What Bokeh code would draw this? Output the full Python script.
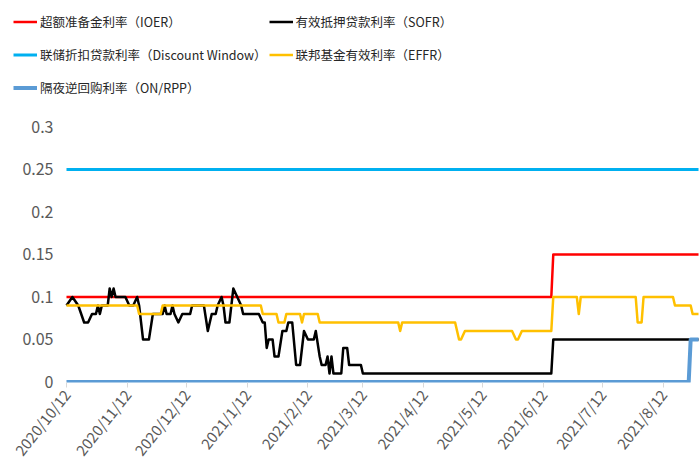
import pandas as pd
from bokeh.plotting import figure
from bokeh.models import Legend, LegendItem, FixedTicker, Range1d
from bokeh.embed import file_html
from bokeh.resources import INLINE

# ---------------- data ----------------
ioer_dates = ["2020-10-12", "2021-06-16", "2021-06-17", "2021-08-30"]
ioer_vals = [0.10, 0.10, 0.15, 0.15]

dw_dates = ["2020-10-12", "2021-08-30"]
dw_vals = [0.25, 0.25]

onrrp_dates = ["2020-10-12", "2021-08-25", "2021-08-26", "2021-08-30"]
onrrp_vals = [0.00, 0.00, 0.05, 0.05]

sofr_dates = [
    "2020-10-12", "2020-10-15", "2020-10-18", "2020-10-21", "2020-10-23", "2020-10-25",
    "2020-10-27", "2020-10-28", "2020-10-29", "2020-10-30", "2020-11-02", "2020-11-03",
    "2020-11-04", "2020-11-05", "2020-11-06", "2020-11-11", "2020-11-13", "2020-11-15",
    "2020-11-17", "2020-11-18", "2020-11-19", "2020-11-20", "2020-11-23", "2020-11-25",
    "2020-11-30", "2020-12-01", "2020-12-02", "2020-12-04", "2020-12-05", "2020-12-06",
    "2020-12-08", "2020-12-10", "2020-12-14", "2020-12-15", "2020-12-21", "2020-12-23",
    "2020-12-25", "2020-12-27", "2020-12-28", "2020-12-30", "2020-12-31", "2021-01-01",
    "2021-01-03", "2021-01-05", "2021-01-07", "2021-01-09", "2021-01-10", "2021-01-18",
    "2021-01-20", "2021-01-21", "2021-01-22", "2021-01-23", "2021-01-25", "2021-01-26",
    "2021-01-28", "2021-01-30", "2021-02-01", "2021-02-02", "2021-02-04", "2021-02-06",
    "2021-02-08", "2021-02-10", "2021-02-12", "2021-02-15", "2021-02-16", "2021-02-18",
    "2021-02-19", "2021-02-21", "2021-02-22", "2021-02-23", "2021-02-24", "2021-02-25",
    "2021-03-01", "2021-03-02", "2021-03-04", "2021-03-05", "2021-03-11", "2021-03-12",
    "2021-06-16", "2021-06-17", "2021-08-30",
]
sofr_vals = [
    0.09, 0.10, 0.09, 0.07, 0.07, 0.08,
    0.08, 0.09, 0.08, 0.09, 0.09, 0.11,
    0.10, 0.11, 0.10, 0.10, 0.09, 0.09,
    0.10, 0.09, 0.07, 0.05, 0.05, 0.08,
    0.08, 0.09, 0.08, 0.08, 0.09, 0.08,
    0.07, 0.08, 0.08, 0.09, 0.09, 0.06,
    0.08, 0.08, 0.09, 0.10, 0.09, 0.07,
    0.07, 0.11, 0.10, 0.09, 0.08, 0.08,
    0.07, 0.07, 0.04, 0.05, 0.05, 0.03,
    0.03, 0.06, 0.06, 0.07, 0.07, 0.02,
    0.02, 0.06, 0.05, 0.05, 0.06, 0.03,
    0.02, 0.02, 0.03, 0.01, 0.03, 0.01,
    0.01, 0.04, 0.04, 0.02, 0.02, 0.01,
    0.01, 0.05, 0.05,
]

effr_dates = [
    "2020-10-12", "2020-11-17", "2020-11-18", "2020-11-29", "2020-11-30", "2021-01-19",
    "2021-01-20", "2021-01-27", "2021-01-28", "2021-01-31", "2021-02-01", "2021-02-08",
    "2021-02-09", "2021-02-10", "2021-02-17", "2021-02-18", "2021-03-30", "2021-03-31",
    "2021-04-01", "2021-04-28", "2021-04-30", "2021-05-01", "2021-05-03", "2021-05-27",
    "2021-05-29", "2021-05-30", "2021-06-01", "2021-06-16", "2021-06-17", "2021-06-29",
    "2021-06-30", "2021-07-01", "2021-07-29", "2021-07-30", "2021-08-01", "2021-08-02",
    "2021-08-17", "2021-08-18", "2021-08-26", "2021-08-27", "2021-08-30",
]
effr_vals = [
    0.09, 0.09, 0.08, 0.08, 0.09, 0.09,
    0.08, 0.08, 0.07, 0.07, 0.08, 0.08,
    0.07, 0.08, 0.08, 0.07, 0.07, 0.06,
    0.07, 0.07, 0.05, 0.05, 0.06, 0.06,
    0.05, 0.05, 0.06, 0.06, 0.10, 0.10,
    0.08, 0.10, 0.10, 0.07, 0.07, 0.10,
    0.10, 0.09, 0.09, 0.08, 0.08,
]

labels = [
    "超额准备金利率（IOER）",
    "有效抵押贷款利率（SOFR）",
    "联储折扣贷款利率（Discount Window）",
    "联邦基金有效利率（EFFR）",
    "隔夜逆回购利率（ON/RPP）",
]

x_tick_dates = ["2020-10-12", "2020-11-12", "2020-12-12", "2021-01-12", "2021-02-12",
                "2021-03-12", "2021-04-12", "2021-05-12", "2021-06-12", "2021-07-12",
                "2021-08-12"]
x_tick_labels = ["2020/10/12", "2020/11/12", "2020/12/12", "2021/1/12", "2021/2/12",
                 "2021/3/12", "2021/4/12", "2021/5/12", "2021/6/12", "2021/7/12",
                 "2021/8/12"]
y_ticks = [0, 0.05, 0.1, 0.15, 0.2, 0.25, 0.3]
y_tick_labels = ["0", "0.05", "0.1", "0.15", "0.2", "0.25", "0.3"]

# ---------------- figure ----------------
FONT = "Noto Sans CJK SC"
start = pd.Timestamp("2020-10-12")
# frame spans the legend area too; the data start sits 53 px right of the frame edge
x_start = start - pd.Timedelta(hours=27.0 * 24)
x_end = start + pd.Timedelta(hours=322.5 * 24)
y_start, y_end = -0.0006, 0.4488

p = figure(width=699, height=468, x_axis_type="datetime",
           x_range=Range1d(x_start, x_end), y_range=Range1d(y_start, y_end),
           output_backend="svg", toolbar_location=None,
           min_border_left=13, min_border_right=0, min_border_top=0, min_border_bottom=86)
p.outline_line_color = None
p.xgrid.visible = False
p.ygrid.visible = False
p.background_fill_color = "white"
p.border_fill_color = "white"

def ts(lst):
    return pd.to_datetime(lst)

r_dw = p.line(ts(dw_dates), dw_vals, line_color="#00B0F0", line_width=3)
r_ioer = p.line(ts(ioer_dates), ioer_vals, line_color="#FF0000", line_width=2.5, line_join="round")
r_sofr = p.line(ts(sofr_dates), sofr_vals, line_color="#000000", line_width=2.5, line_join="round")
r_effr = p.line(ts(effr_dates), effr_vals, line_color="#FFC000", line_width=2.5, line_join="round")
r_onrrp = p.line(ts(onrrp_dates), onrrp_vals, line_color="#5B9BD5", line_width=4, line_join="round")

# x axis
x_ms = [float(pd.Timestamp(d).value // 10**6) for d in x_tick_dates]
p.xaxis.ticker = FixedTicker(ticks=x_ms)
p.xaxis.major_label_overrides = {m: l for m, l in zip(x_ms, x_tick_labels)}
p.xaxis.major_label_orientation = 0.9
p.xaxis.axis_line_color = None
p.xaxis.major_tick_line_color = "#D9D9D9"
p.xaxis.major_tick_in = 0
p.xaxis.major_tick_out = 5
p.xaxis.minor_tick_line_color = None
p.xaxis.major_label_text_font = FONT
p.xaxis.major_label_text_font_size = "15px"
p.xaxis.major_label_text_color = "#595959"
p.xaxis.major_label_standoff = 4

# y axis (labels pulled right so they end 13 px left of the data start)
p.yaxis.ticker = FixedTicker(ticks=y_ticks)
p.yaxis.major_label_overrides = {t: l for t, l in zip(y_ticks, y_tick_labels)}
p.yaxis.axis_line_color = None
p.yaxis.major_tick_line_color = None
p.yaxis.minor_tick_line_color = None
p.yaxis.major_tick_out = 0
p.yaxis.major_tick_in = 0
p.yaxis.major_label_standoff = -40
p.yaxis.major_label_text_font = FONT
p.yaxis.major_label_text_font_size = "16px"
p.yaxis.major_label_text_color = "#595959"

items = [
    LegendItem(label=labels[0], renderers=[r_ioer]),
    LegendItem(label=labels[1], renderers=[r_sofr]),
    LegendItem(label=labels[2], renderers=[r_dw]),
    LegendItem(label=labels[3], renderers=[r_effr]),
    LegendItem(label=labels[4], renderers=[r_onrrp]),
]
legend = Legend(items=items, location=(0, 279), orientation="horizontal", ncols=2,
                glyph_width=24, glyph_height=31, label_height=31, label_standoff=3,
                spacing=2, padding=0, margin=0,
                border_line_color=None, background_fill_alpha=0,
                label_text_font=FONT, label_text_font_size="12.5px",
                label_text_color="#262626")
p.add_layout(legend, "center")

open("out.html", "w").write(file_html(p, INLINE))
